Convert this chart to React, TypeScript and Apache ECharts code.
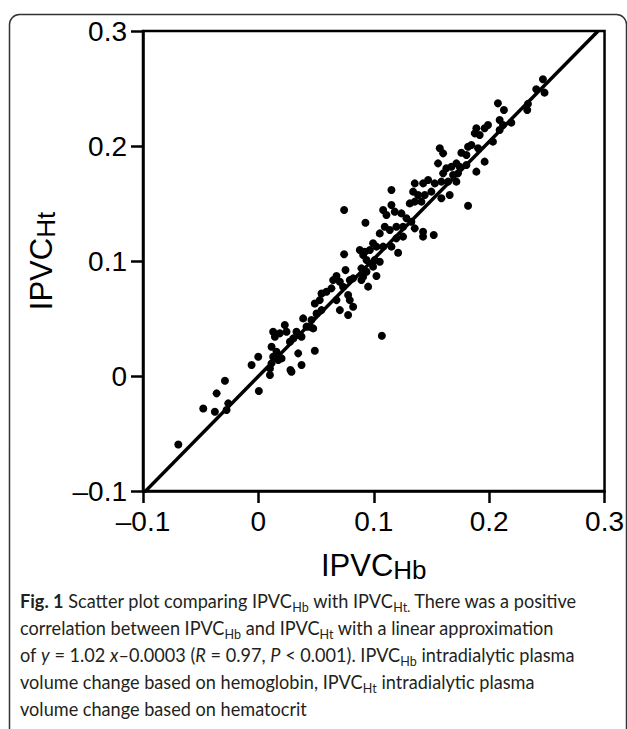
import React, { useEffect, useRef } from "react";
import * as echarts from "echarts";

// IPVC based on hemoglobin (x) and on hematocrit (y)
const ipvcHb = [
  0.0743, 0.0928, 0.0743, 0.0755, 0.0677, 0.0648, 0.0706, 0.0792, 0.0821, 0.0734,
  0.0778, 0.0792, 0.0821, 0.0778, 0.0706, 0.0677, 0.0633, 0.0590, 0.0547, 0.0532,
  0.0489, 0.0547, 0.0504, 0.0460, 0.0446, 0.0475, 0.0417, 0.0388, 0.0359, 0.0374,
  0.0330, 0.0302, 0.0273, 0.0244, 0.0229, 0.0186, 0.0128, 0.0143, 0.0114, 0.0157,
  0.0128, 0.0172, 0.0201, 0.0114, 0.0100, 0.0100, -0.0001, -0.0059, 0.0004, 0.0278,
  0.0287, 0.0374, 0.0345, 0.0489, -0.0290, -0.0362, -0.0478, -0.0377, -0.0276, -0.0261,
  -0.0694, 0.0879, 0.0908, 0.0893,
  0.2192, 0.2120, 0.1990, 0.1961, 0.1889, 0.1875, 0.1918, 0.1846, 0.1817, 0.1904,
  0.2033, 0.1961, 0.1889, 0.1803, 0.1759, 0.1716, 0.1745, 0.1803, 0.1673, 0.1629,
  0.1687, 0.1730, 0.1716, 0.1572, 0.1601, 0.1557, 0.1601, 0.1586, 0.1644, 0.1658,
  0.1586, 0.1528, 0.1471, 0.1427, 0.1355, 0.1341, 0.1384, 0.1442, 0.1499, 0.1413,
  0.1355, 0.1312, 0.1153, 0.1153, 0.1081, 0.1110, 0.1182, 0.1240, 0.1283, 0.1326,
  0.1355, 0.1254, 0.1196, 0.1139, 0.1095, 0.1052, 0.1196, 0.1254, 0.1427, 0.1427,
  0.1520, 0.1817, 0.1211, 0.1153, 0.1081, 0.1023, 0.0994, 0.0966, 0.0922, 0.0937,
  0.1009, 0.1052, 0.0994, 0.0937, 0.1023, 0.0908, 0.0951, 0.0893,
  0.2466, 0.2408, 0.2480, 0.2336, 0.2330, 0.2076, 0.2128, 0.2091, 0.2091,
  0.1070,
];
const ipvcHt = [
  0.1443, 0.1333, 0.1058, 0.0921, 0.0869, 0.0834, 0.0820, 0.0834, 0.0849, 0.0776,
  0.0704, 0.0660, 0.0602, 0.0530, 0.0573, 0.0660, 0.0762, 0.0733, 0.0718, 0.0660,
  0.0631, 0.0573, 0.0544, 0.0487, 0.0429, 0.0414, 0.0429, 0.0501, 0.0356, 0.0342,
  0.0385, 0.0327, 0.0298, 0.0385, 0.0443, 0.0371, 0.0385, 0.0342, 0.0255, 0.0211,
  0.0168, 0.0139, 0.0153, 0.0110, 0.0066, 0.0008, 0.0168, 0.0095, -0.0131, 0.0052,
  0.0037, 0.0095, 0.0197, 0.0220, -0.0041, -0.0151, -0.0282, -0.0311, -0.0296, -0.0238,
  -0.0595, 0.1095, 0.1052, 0.0936,
  0.2203, 0.2183, 0.2183, 0.2154, 0.2154, 0.2110, 0.2096, 0.2009, 0.1994, 0.1980,
  0.2038, 0.1864, 0.1777, 0.1922, 0.1942, 0.1849, 0.1820, 0.1835, 0.1820, 0.1806,
  0.1748, 0.1762, 0.1690, 0.1980, 0.1936, 0.1849, 0.1762, 0.1690, 0.1690, 0.1574,
  0.1545, 0.1675, 0.1704, 0.1675, 0.1675, 0.1603, 0.1574, 0.1574, 0.1603, 0.1516,
  0.1516, 0.1501, 0.1617, 0.1487, 0.1443, 0.1400, 0.1429, 0.1414, 0.1371, 0.1342,
  0.1284, 0.1298, 0.1298, 0.1270, 0.1298, 0.1240, 0.1197, 0.1212, 0.1255, 0.1212,
  0.1226, 0.1481, 0.1072, 0.1125, 0.1125, 0.1125, 0.1154, 0.1096, 0.1081, 0.1009,
  0.1009, 0.0994, 0.0951, 0.0907, 0.0870, 0.0864, 0.0777, 0.0835,
  0.2580, 0.2493, 0.2464, 0.2366, 0.2313, 0.2371, 0.2313, 0.2226, 0.2139,
  0.0350,
];

// Linear approximation y = 1.02 x - 0.0003
const fitSlope = 1.02;
const fitIntercept = -0.0003;
const fitXRange = [-0.1, 0.2944];

const axisMin = -0.1;
const axisMax = 0.3;
const axisStep = 0.1;

const captionLines = [
  "{b|Fig. 1} Scatter plot comparing IPVC{s|Hb} with IPVC{s|Ht.} There was a positive",
  "correlation between IPVC{s|Hb} and IPVC{s|Ht} with a linear approximation",
  "of {i|y} = 1.02 {i|x}\u20130.0003 ({i|R} = 0.97, {i|P} < 0.001). IPVC{s|Hb} intradialytic plasma",
  "volume change based on hemoglobin, IPVC{s|Ht} intradialytic plasma",
  "volume change based on hematocrit",
];

const AX_FONT = "'Liberation Sans', Arial, Helvetica, sans-serif";
const CAP_FONT = "Lato, Roboto, sans-serif";

const fmt = (v: number) => {
  const r = Math.round(v * 10) / 10;
  if (r === 0) return "0";
  return r < 0 ? "\u2013" + Math.abs(r).toString() : r.toString();
};

const nameRich = {
  a: { fontSize: 31, fontFamily: AX_FONT, color: "#000", lineHeight: 36 },
  s: { fontSize: 26, fontFamily: AX_FONT, color: "#000", lineHeight: 28, verticalAlign: "bottom" },
};

export default function App() {
  const ref = useRef<HTMLDivElement>(null);
  useEffect(() => {
    if (!ref.current) return;
    const chart = echarts.init(ref.current, null, { renderer: "svg" });
    const points = ipvcHb.map((x, i) => [x, ipvcHt[i]]);
    const fitLine = fitXRange.map((x) => [x, fitSlope * x + fitIntercept]);
    const capBase = { fontSize: 19.5, fontFamily: CAP_FONT, fill: "#231f20", lineHeight: 27 };
    chart.setOption({
      animation: false,
      backgroundColor: "#fff",
      grid: {
        left: 143,
        right: 22,
        top: 31,
        bottom: 238,
        show: true,
        borderColor: "#000",
        borderWidth: 2.5,
        backgroundColor: "transparent",
      },
      xAxis: {
        type: "value",
        min: axisMin,
        max: axisMax,
        interval: axisStep,
        axisLine: { show: true, onZero: false, lineStyle: { color: "#000", width: 2.5 } },
        axisTick: { show: true, inside: false, length: 12, lineStyle: { color: "#000", width: 2.5 } },
        splitLine: { show: false },
        axisLabel: { fontSize: 28, fontFamily: AX_FONT, color: "#000", margin: 16, formatter: fmt },
        name: "{a|IPVC}{s|Hb}",
        nameLocation: "middle",
        nameGap: 56,
        nameTextStyle: { rich: nameRich },
      },
      yAxis: {
        type: "value",
        min: axisMin,
        max: axisMax,
        interval: axisStep,
        axisLine: { show: true, onZero: false, lineStyle: { color: "#000", width: 2.5 } },
        axisTick: { show: true, inside: false, length: 12, lineStyle: { color: "#000", width: 2.5 } },
        splitLine: { show: false },
        axisLabel: { fontSize: 28, fontFamily: AX_FONT, color: "#000", margin: 16, formatter: fmt },
        name: "{a|IPVC}{s|Ht}",
        nameLocation: "middle",
        nameGap: 84,
        nameTextStyle: { rich: nameRich },
      },
      series: [
        {
          type: "line",
          data: fitLine,
          symbol: "none",
          clip: true,
          lineStyle: { color: "#000", width: 3.5 },
          z: 2,
        },
        {
          type: "scatter",
          data: points,
          symbolSize: 8,
          itemStyle: { color: "#000", opacity: 1 },
          z: 3,
        },
      ],
      graphic: [
        {
          type: "rect",
          silent: true,
          z: -1,
          shape: { x: 9.5, y: 14.5, width: 617, height: 740, r: 10 },
          style: { fill: "none", stroke: "#333", lineWidth: 1.5 },
        },
        {
          type: "text",
          left: 20,
          top: 587,
          scaleX: 0.93,
          style: {
            ...capBase,
            text: captionLines.join("\n"),
            rich: {
              b: { ...capBase, fontWeight: "bold" },
              i: { ...capBase, fontStyle: "italic" },
              s: { fontSize: 13.5, fontFamily: CAP_FONT, fill: "#231f20", lineHeight: 14, verticalAlign: "bottom" },
            },
          },
        },
      ],
    });
    return () => chart.dispose();
  }, []);
  return (
    <div
      ref={ref}
      style={{ position: "absolute", left: 0, top: 0, width: 627, height: 729 }}
    />
  );
}
